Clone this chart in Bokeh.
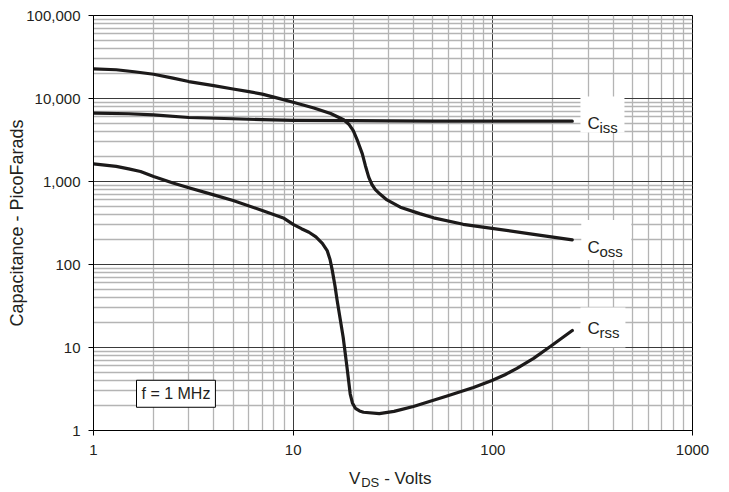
from bokeh.plotting import figure
from bokeh.models import (FixedTicker, NumeralTickFormatter, Label, LogAxis, CustomJSTickFormatter)
from bokeh.embed import file_html
from bokeh.resources import INLINE

# ---- data ----
coss_v = [1, 1.3, 1.6, 2, 2.5, 3, 4, 5, 6, 7, 8.65, 10, 12.7, 15.4, 17.9, 19, 20, 21, 22.2, 23, 23.9, 24.8, 25.8, 27.3, 29.5, 34.4, 43, 50.5, 71, 99, 154, 250]
coss_c = [22800, 22200, 21000, 19600, 17600, 16000, 14300, 13000, 12100, 11300, 9900, 9000, 7700, 6600, 5540, 4900, 4100, 3100, 2150, 1550, 1130, 920, 800, 700, 600, 490, 410, 365, 305, 272, 234, 198]

ciss_v = [1, 1.5, 2, 3, 5, 7, 10, 20, 30, 50, 100, 250]
ciss_c = [6650, 6550, 6360, 5900, 5700, 5550, 5450, 5400, 5380, 5350, 5330, 5330]

crss_v = [1, 1.3, 1.5, 1.72, 2, 2.5, 3, 4, 5, 7, 9, 10, 11, 12, 13, 14, 14.8, 15.3, 15.7, 16.2, 16.6, 17.2, 17.8, 18.6, 19.3, 19.8, 20.5, 21.5, 22.5, 27, 32, 40, 59, 80, 99, 115, 132, 160, 194, 250]
crss_c = [1630, 1520, 1420, 1320, 1150, 960, 840, 690, 590, 448, 360, 305, 270, 245, 215, 180, 147, 115, 85, 55, 37, 22, 13.3, 5.8, 2.77, 2.15, 1.85, 1.72, 1.66, 1.6, 1.7, 1.95, 2.6, 3.3, 4.0, 4.7, 5.6, 7.4, 10.3, 16]

x_ticks = [1, 10, 100, 1000]
y_ticks = [1, 10, 100, 1000, 10000, 100000]
x_title_parts = ["V", "- Volts"]
x_title_sub = ["DS"]

FONT = "Liberation Sans"
TXT = "#231f20"

p = figure(width=729, height=492, x_axis_type="log", y_axis_type="log",
           x_range=(1, 1000), y_range=(1, 100000),
           output_backend="svg", toolbar_location=None,
           min_border_left=93, min_border_right=37, min_border_top=15, min_border_bottom=62)

x_minor = [m * 10 ** e for e in range(0, 3) for m in range(2, 10)]
y_minor = [m * 10 ** e for e in range(0, 5) for m in range(2, 10)]
p.xaxis.ticker = FixedTicker(ticks=x_ticks, minor_ticks=x_minor)
p.yaxis.ticker = FixedTicker(ticks=y_ticks, minor_ticks=y_minor)
p.xaxis.formatter = NumeralTickFormatter(format="0")
p.yaxis.formatter = NumeralTickFormatter(format="0,0")

for ax in (p.xaxis, p.yaxis):
    ax.major_tick_in = 0
    ax.major_tick_out = 5
    ax.minor_tick_in = 0
    ax.minor_tick_out = 0
    ax.axis_line_color = "black"
    ax.major_tick_line_color = "black"
    ax.major_label_text_font = FONT
    ax.major_label_text_font_size = "15px"
    ax.major_label_text_color = TXT
p.yaxis.major_label_standoff = 8
p.xaxis.major_label_standoff = 9

p.yaxis.axis_label = "Capacitance - PicoFarads"
p.yaxis.axis_label_text_font = FONT
p.yaxis.axis_label_text_font_size = "18px"
p.yaxis.axis_label_text_font_style = "normal"
p.yaxis.axis_label_text_color = TXT
p.yaxis.axis_label_standoff = -4

p.xgrid.grid_line_color = "#3a3a3a"
p.ygrid.grid_line_color = "#3a3a3a"
p.xgrid.minor_grid_line_color = "#b4b4b4"
p.ygrid.minor_grid_line_color = "#b4b4b4"
p.xgrid.minor_grid_line_width = 1.3
p.ygrid.minor_grid_line_width = 1.3
p.outline_line_color = "black"
p.outline_line_width = 1
p.background_fill_color = "white"

# x-axis title "V_DS - Volts" built from two extra tick-label-only axes
def title_axis(ticks, names, size, standoff):
    ax = LogAxis(ticker=FixedTicker(ticks=ticks, minor_ticks=[]),
                 formatter=CustomJSTickFormatter(args=dict(names=names), code="return names[index]"))
    ax.axis_line_color = None
    ax.major_tick_line_color = None
    ax.minor_tick_line_color = None
    ax.major_tick_out = 0
    ax.major_tick_in = 0
    ax.major_label_standoff = standoff
    ax.major_label_text_font = FONT
    ax.major_label_text_font_size = size
    ax.major_label_text_color = TXT
    return ax

p.add_layout(title_axis([20.3, 37.5], x_title_parts, "17px", 11), "below")
p.add_layout(title_axis([24.3], x_title_sub, "13px", -16), "below")

# white boxes behind the series labels
p.rect(x=[354, 370, 356], y=[6410, 197, 17.4], width=[44, 50, 45], height=[36, 40, 40],
       width_units="screen", height_units="screen", fill_color="white", line_color=None)

LINE = "#1c1a1a"
for vv, cc in ((ciss_v, ciss_c), (coss_v, coss_c), (crss_v, crss_c)):
    p.line(vv, cc, line_color=LINE, line_width=3.2, line_join="round", line_cap="round")

# series labels C_iss, C_oss, C_rss
for (lx, ly, sub) in ((298, 5000, "iss"), (298, 161.6, "oss"), (298, 16.9, "rss")):
    p.add_layout(Label(x=lx, y=ly, text="C", text_font=FONT, text_font_size="17px",
                       text_color=TXT, text_baseline="alphabetic"))
    p.add_layout(Label(x=lx, y=ly, text=sub, x_offset=12, y_offset=-4, text_font=FONT,
                       text_font_size="15px", text_color=TXT, text_baseline="alphabetic"))

# frequency note
p.add_layout(Label(x=1.642, y=2.77, text="f = 1 MHz", text_font=FONT, text_font_size="16px",
                   text_color=TXT, text_baseline="alphabetic", background_fill_color="white",
                   border_line_color="black", border_line_width=1, padding=5))

open("out.html", "w").write(file_html(p, INLINE))
